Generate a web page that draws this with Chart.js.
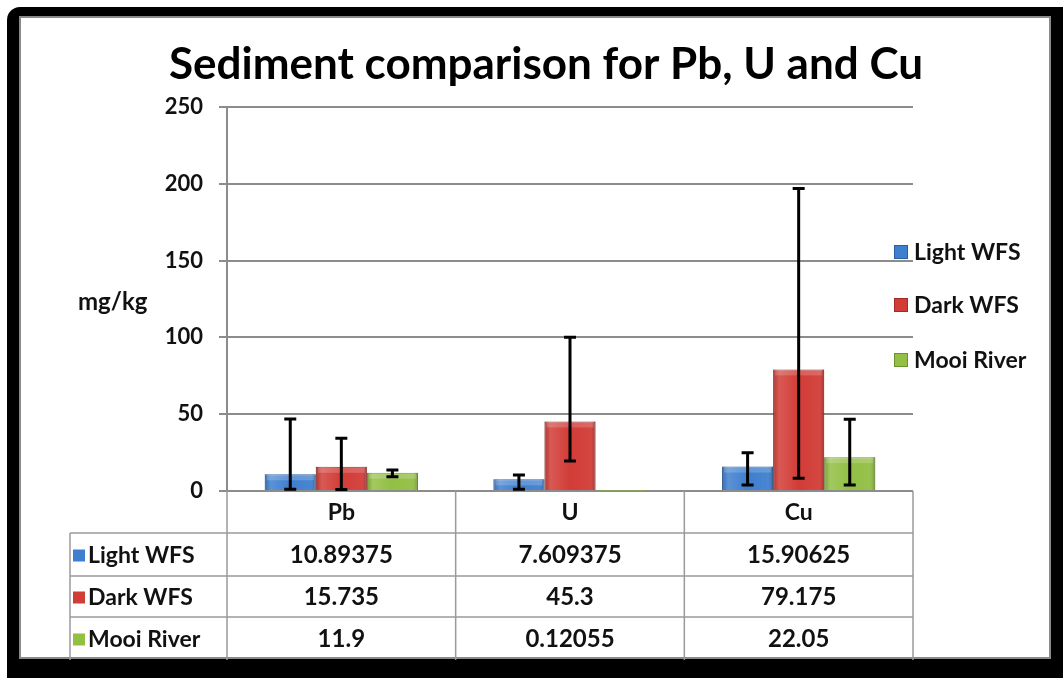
<!DOCTYPE html>
<html>
<head>
<meta charset="utf-8">
<script src="https://cdn.jsdelivr.net/npm/chart.js@4.4.1/dist/chart.umd.min.js"></script>
<style>
  body { margin: 0; background: #fff; }
  #c { display: block; }
</style>
</head>
<body>
<canvas id="c" width="1063" height="678"></canvas>
<script>
// data
const categories = ['Pb', 'U', 'Cu'];
const seriesNames = ['Light WFS', 'Dark WFS', 'Mooi River'];
const lightWFS = [10.89375, 7.609375, 15.90625];
const darkWFS = [15.735, 45.3, 79.175];
const mooiRiver = [11.9, 0.12055, 22.05];
// error bar ends [low, high]
const lightErr = [[1.1, 46.9], [1.1, 10.4], [3.9, 24.9]];
const darkErr = [[1.0, 34.3], [19.5, 100.1], [8.3, 197]];
const mooiErr = [[9.3, 13.7], null, [3.9, 46.7]];
const yTicks = [0, 50, 100, 150, 200, 250];

const colors = ['#3f7fcf', '#d23c37', '#92bf44'];
const borders = ['#2b5f9f', '#a32a26', '#6e9430'];
const FONT = 'Lato, "DejaVu Sans", sans-serif';

const frame = {
  id: 'frame',
  beforeDraw(chart) {
    const ctx = chart.ctx;
    ctx.save();
    ctx.fillStyle = '#fff';
    ctx.fillRect(0, 0, 1063, 678);
    ctx.fillStyle = '#000';
    ctx.beginPath();
    ctx.roundRect(7, 7, 1070, 680, [13, 0, 0, 0]);
    ctx.fill();
    ctx.fillStyle = '#fff';
    ctx.fillRect(20, 17, 1030, 641);
    ctx.strokeStyle = '#8a8a8a';
    ctx.lineWidth = 2;
    ctx.strokeRect(20, 17, 1030, 641);
    ctx.restore();
  }
};

// bevel shading on bars, then the error bars
const errorBars = {
  id: 'errorBars',
  afterDatasetsDraw(chart) {
    const ctx = chart.ctx;
    const y = chart.scales.y;
    ctx.save();
    chart.data.datasets.forEach((ds, i) => {
      chart.getDatasetMeta(i).data.forEach(bar => {
        const w = bar.width, l = bar.x - w / 2, top = bar.y, h = bar.base - bar.y;
        if (h < 1) return;
        const g = ctx.createLinearGradient(l, 0, l + w, 0);
        g.addColorStop(0, 'rgba(0,0,0,0.18)');
        g.addColorStop(0.12, 'rgba(255,255,255,0.15)');
        g.addColorStop(0.5, 'rgba(255,255,255,0.0)');
        g.addColorStop(0.88, 'rgba(255,255,255,0.05)');
        g.addColorStop(1, 'rgba(0,0,0,0.22)');
        ctx.fillStyle = g;
        ctx.fillRect(l, top, w, h);
        ctx.fillStyle = 'rgba(255,255,255,0.18)';
        ctx.fillRect(l + 2, top + 1, w - 4, Math.min(5, h - 1));
      });
    });

    const errs = [lightErr, darkErr, mooiErr];
    ctx.strokeStyle = '#000';
    ctx.lineWidth = 3;
    errs.forEach((set, i) => {
      const meta = chart.getDatasetMeta(i);
      set.forEach((e, j) => {
        if (!e) return;
        const x = meta.data[j].x;
        const y0 = y.getPixelForValue(e[0]);
        const y1 = y.getPixelForValue(e[1]);
        ctx.beginPath();
        ctx.moveTo(x, y0); ctx.lineTo(x, y1);
        ctx.moveTo(x - 6, y0); ctx.lineTo(x + 6, y0);
        ctx.moveTo(x - 6, y1); ctx.lineTo(x + 6, y1);
        ctx.stroke();
      });
    });
    ctx.restore();
  }
};

const extras = {
  id: 'extras',
  afterDraw(chart) {
    const ctx = chart.ctx;
    const xs = chart.scales.x;
    const area = chart.chartArea;
    ctx.save();
    ctx.fillStyle = '#000';

    // title
    ctx.font = 'bold 44px ' + FONT;
    ctx.textAlign = 'center';
    ctx.textBaseline = 'alphabetic';
    ctx.fillText('Sediment comparison for Pb, U and Cu', 546, 79);

    // axis label
    ctx.font = 'bold 24px ' + FONT;
    ctx.textAlign = 'left';
    ctx.textBaseline = 'middle';
    ctx.fillStyle = '#111';
    ctx.fillText('mg/kg', 78, 302);

    // legend
    const legY = [252, 305, 360];
    ctx.font = 'bold 23px ' + FONT;
    seriesNames.forEach((name, i) => {
      ctx.fillStyle = colors[i];
      ctx.fillRect(894, legY[i] - 7, 14, 14);
      ctx.strokeStyle = borders[i];
      ctx.lineWidth = 1;
      ctx.strokeRect(894.5, legY[i] - 6.5, 13, 13);
      ctx.fillStyle = '#111';
      ctx.fillText(name, 914, legY[i] + 1);
    });

    // data table
    const step = xs.getPixelForValue(1) - xs.getPixelForValue(0);
    const cols = [70, area.left];
    categories.forEach((c, j) => cols.push(xs.getPixelForValue(j) + step / 2));
    const rows = [area.bottom, 533, 576, 617, 660];
    ctx.strokeStyle = '#9a9a9a';
    ctx.lineWidth = 1.5;
    ctx.beginPath();
    rows.slice(1, 4).forEach(r => { ctx.moveTo(cols[0], r); ctx.lineTo(cols[4], r); });
    ctx.moveTo(cols[0], rows[1]); ctx.lineTo(cols[0], rows[4]);
    for (let k = 1; k < cols.length; k++) {
      ctx.moveTo(cols[k], rows[0]); ctx.lineTo(cols[k], rows[4]);
    }
    ctx.stroke();

    ctx.font = 'bold 23px ' + FONT;
    ctx.textAlign = 'center';
    ctx.fillStyle = '#111';
    categories.forEach((c, j) => {
      ctx.fillText(c, xs.getPixelForValue(j), (rows[0] + rows[1]) / 2 + 1);
    });
    const series = [lightWFS, darkWFS, mooiRiver];
    series.forEach((vals, i) => {
      const cy = (rows[i + 1] + rows[i + 2]) / 2 + 1;
      ctx.fillStyle = colors[i];
      ctx.fillRect(73, cy - 6, 12, 12);
      ctx.fillStyle = '#111';
      ctx.textAlign = 'left';
      ctx.fillText(seriesNames[i], 88, cy);
      ctx.textAlign = 'center';
      ctx.font = 'bold 24px ' + FONT;
      vals.forEach((v, j) => ctx.fillText(String(v), xs.getPixelForValue(j), cy));
      ctx.font = 'bold 23px ' + FONT;
    });
    ctx.restore();
  }
};

new Chart(document.getElementById('c'), {
  type: 'bar',
  data: {
    labels: categories,
    datasets: [lightWFS, darkWFS, mooiRiver].map((d, i) => ({
      label: seriesNames[i],
      data: d,
      backgroundColor: colors[i],
      borderColor: borders[i],
      borderWidth: 1,
      categoryPercentage: 0.67,
      barPercentage: 1.0
    }))
  },
  options: {
    responsive: false,
    animation: false,
    layout: { padding: { left: 0, top: 107, right: 150, bottom: 187 } },
    plugins: {
      legend: { display: false },
      tooltip: { enabled: false },
      title: { display: false }
    },
    scales: {
      x: { display: false },
      y: {
        min: 0,
        max: 250,
        afterFit(scale) { scale.width = 227; },
        afterBuildTicks(scale) { scale.ticks = yTicks.map(v => ({ value: v })); },
        ticks: {
          padding: 16,
          color: '#111',
          font: { family: FONT, size: 22, weight: 'bold' }
        },
        grid: { color: '#8c8c8c', lineWidth: 2, tickLength: 8 },
        border: { color: '#8c8c8c', width: 2 }
      }
    }
  },
  plugins: [frame, errorBars, extras]
});
</script>
</body>
</html>
